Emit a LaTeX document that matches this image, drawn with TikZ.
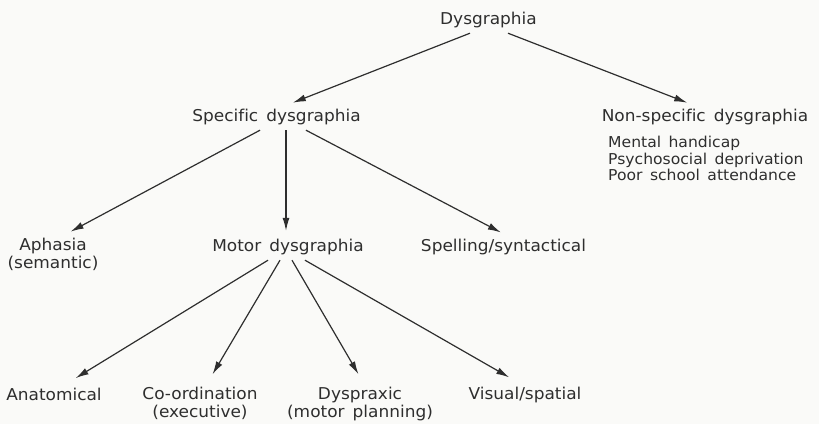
\documentclass[tikz,border=0pt]{standalone}
\usepackage{fontspec}
\setsansfont[Ligatures=NoCommon, FakeStretch=1.04, WordSpace=1.5]{DejaVu Sans}
\usetikzlibrary{arrows.meta, positioning}
\definecolor{ink}{HTML}{2E2E2E}
\definecolor{paper}{HTML}{FAFAF8}
\tikzset{
  font=\sffamily,
  >={Latex[length=13pt, width=7pt]},
  %
  term/.style={font=\sffamily\fontsize{16.3}{18}\selectfont, text=ink,
               inner xsep=0pt, inner ysep=5pt, align=center},
  term1/.style={term, text height=12pt, text depth=4pt, anchor=base},
  cause/.style={font=\sffamily\fontsize{15}{16.5}\selectfont, text=ink,
                inner sep=0pt, align=left},
  %
  flow/.style={draw=ink, line width=1.2pt, ->, shorten >=3pt},
  flowlow/.style={flow, shorten >=9pt},
}
\begin{document}
\begin{tikzpicture}[x=1pt, y=-1pt]

  \fill[paper] (0,0) rectangle (819,424);
  \useasboundingbox (0,0) rectangle (819,424);

  % top level
  \node[term1] (dys) at (488.5,24) {Dysgraphia};
  \node[term1] (spec) at (276.5,121) {Specific dysgraphia};
  \node[term1] (nonspec) at (705,121) {Non-specific dysgraphia};
  \node[cause, anchor=north west] (causes) at (608,136)
    {Mental handicap\\Psychosocial deprivation\\Poor school attendance};

  % second level
  \node[term, anchor=north] (aph) at (53,233) {Aphasia\\(semantic)};
  \node[term1] (motor) at (288,251) {Motor dysgraphia};
  \node[term1] (spell) at (503.5,251) {Spelling/syntactical};

  % motor subtypes
  \node[term1] (anat) at (54,400) {Anatomical};
  \node[term, anchor=north] (coord) at (200,382) {Co-ordination\\(executive)};
  \node[term, anchor=north] (dyspr) at (360,382) {Dyspraxic\\(motor planning)};
  \node[term1] (vis) at (525,399) {Visual/spatial};

  \draw[flow] ([xshift=-18.5pt]dys.south) -- ([xshift=13.5pt]spec.north);
  \draw[flow] ([xshift=19.5pt]dys.south) -- ([xshift=-15pt]nonspec.north);

  \draw[flow] ([xshift=-16.5pt]spec.south) -- ([xshift=15pt]aph.north);
  \draw[flow] ([xshift=9.5pt]spec.south) -- ([xshift=-2pt]motor.north);
  \draw[flow] ([xshift=29.5pt]spec.south) -- (spell.north);

  \draw[flowlow] ([xshift=-20pt]motor.south) -- ([xshift=14pt]anat.north);
  \draw[flowlow] ([xshift=-8pt]motor.south) -- ([xshift=8pt]coord.north);
  \draw[flowlow] ([xshift=4pt]motor.south) -- ([xshift=3pt]dyspr.north);
  \draw[flowlow] ([xshift=17pt]motor.south) -- ([xshift=-8pt]vis.north);

\end{tikzpicture}
\end{document}
